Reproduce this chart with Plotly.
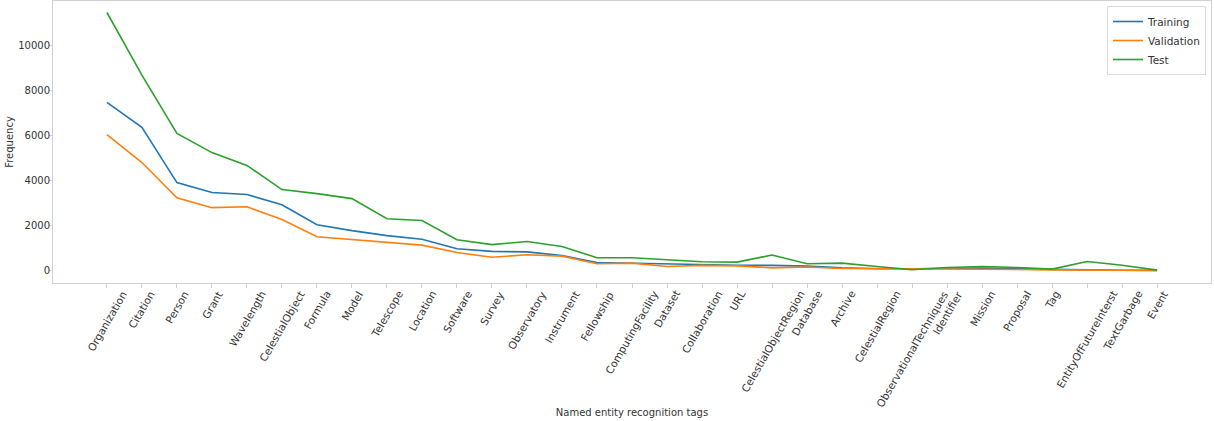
import plotly.graph_objects as go

tags = ["Organization", "Citation", "Person", "Grant", "Wavelength", "CelestialObject",
        "Formula", "Model", "Telescope", "Location", "Software", "Survey", "Observatory",
        "Instrument", "Fellowship", "ComputingFacility", "Dataset", "Collaboration", "URL",
        "CelestialObjectRegion", "Database", "Archive", "CelestialRegion",
        "ObservationalTechniques", "Identifier", "Mission", "Proposal", "Tag",
        "EntityOfFutureInterst", "TextGarbage", "Event"]

training = [7470, 6360, 3910, 3470, 3380, 2930, 2040, 1780, 1560, 1400, 980, 860, 840,
            680, 370, 340, 280, 270, 250, 240, 210, 130, 90, 90, 100, 120, 90, 50,
            40, 25, 20]
validation = [6040, 4800, 3240, 2800, 2840, 2270, 1510, 1380, 1240, 1140, 810, 600, 710,
              650, 310, 340, 190, 240, 220, 130, 170, 100, 100, 90, 90, 100, 60, 40,
              30, 25, 15]
test = [11450, 8670, 6090, 5240, 4670, 3600, 3420, 3200, 2310, 2230, 1380, 1160, 1300,
        1080, 580, 580, 490, 400, 385, 700, 310, 340, 190, 45, 150, 190, 150, 75,
        415, 250, 30]

series = [("Training", training, "#1f77b4"),
          ("Validation", validation, "#ff7f0e"),
          ("Test", test, "#2ca02c")]

FONT = "DejaVu Sans"
TXT = "#333333"
GRID = "#d0d0d0"

fig = go.Figure()
for name, vals, color in series:
    fig.add_trace(go.Scatter(x=tags, y=vals, mode="lines", name=name,
                             line=dict(color=color, width=1.6)))

for t in tags:
    fig.add_annotation(x=t, y=0, xref="x", yref="paper", text=t, showarrow=False,
                       textangle=-60, xanchor="center", yanchor="top", yshift=-3,
                       font=dict(family=FONT, size=10.5, color=TXT))

fig.update_layout(
    width=1214, height=421,
    margin=dict(l=53, r=3, t=1, b=138),
    paper_bgcolor="white", plot_bgcolor="white",
    font=dict(family=FONT, size=10, color=TXT),
    showlegend=True,
    legend=dict(x=1 - 5 / 1158, y=1 - 5 / 282, xanchor="right", yanchor="top",
                bgcolor="white", bordercolor="#d9d9d9", borderwidth=1,
                font=dict(family=FONT, size=10.5, color=TXT),
                itemwidth=30, tracegroupgap=0),
)
fig.update_xaxes(
    type="category", range=[-1.54, 31.54], showticklabels=False,
    ticks="outside", ticklen=4, tickcolor=GRID, tickwidth=1,
    showline=True, linecolor=GRID, linewidth=1, mirror=True,
    showgrid=False, zeroline=False,
    title=dict(text="Named entity recognition tags", standoff=121,
               font=dict(family=FONT, size=10, color=TXT)),
)
fig.update_yaxes(
    range=[-540, 11960], tickvals=[0, 2000, 4000, 6000, 8000, 10000],
    ticktext=["0", "2000", "4000", "6000", "8000", "10000"],
    tickfont=dict(family=FONT, size=10, color=TXT),
    ticks="outside", ticklen=3, tickcolor=GRID, tickwidth=1, ticklabelstandoff=-3,
    showline=True, linecolor=GRID, linewidth=1, mirror=True,
    showgrid=False, zeroline=False,
    title=dict(text="Frequency", standoff=2, font=dict(family=FONT, size=10, color=TXT)),
)

fig.write_html("out.html")
